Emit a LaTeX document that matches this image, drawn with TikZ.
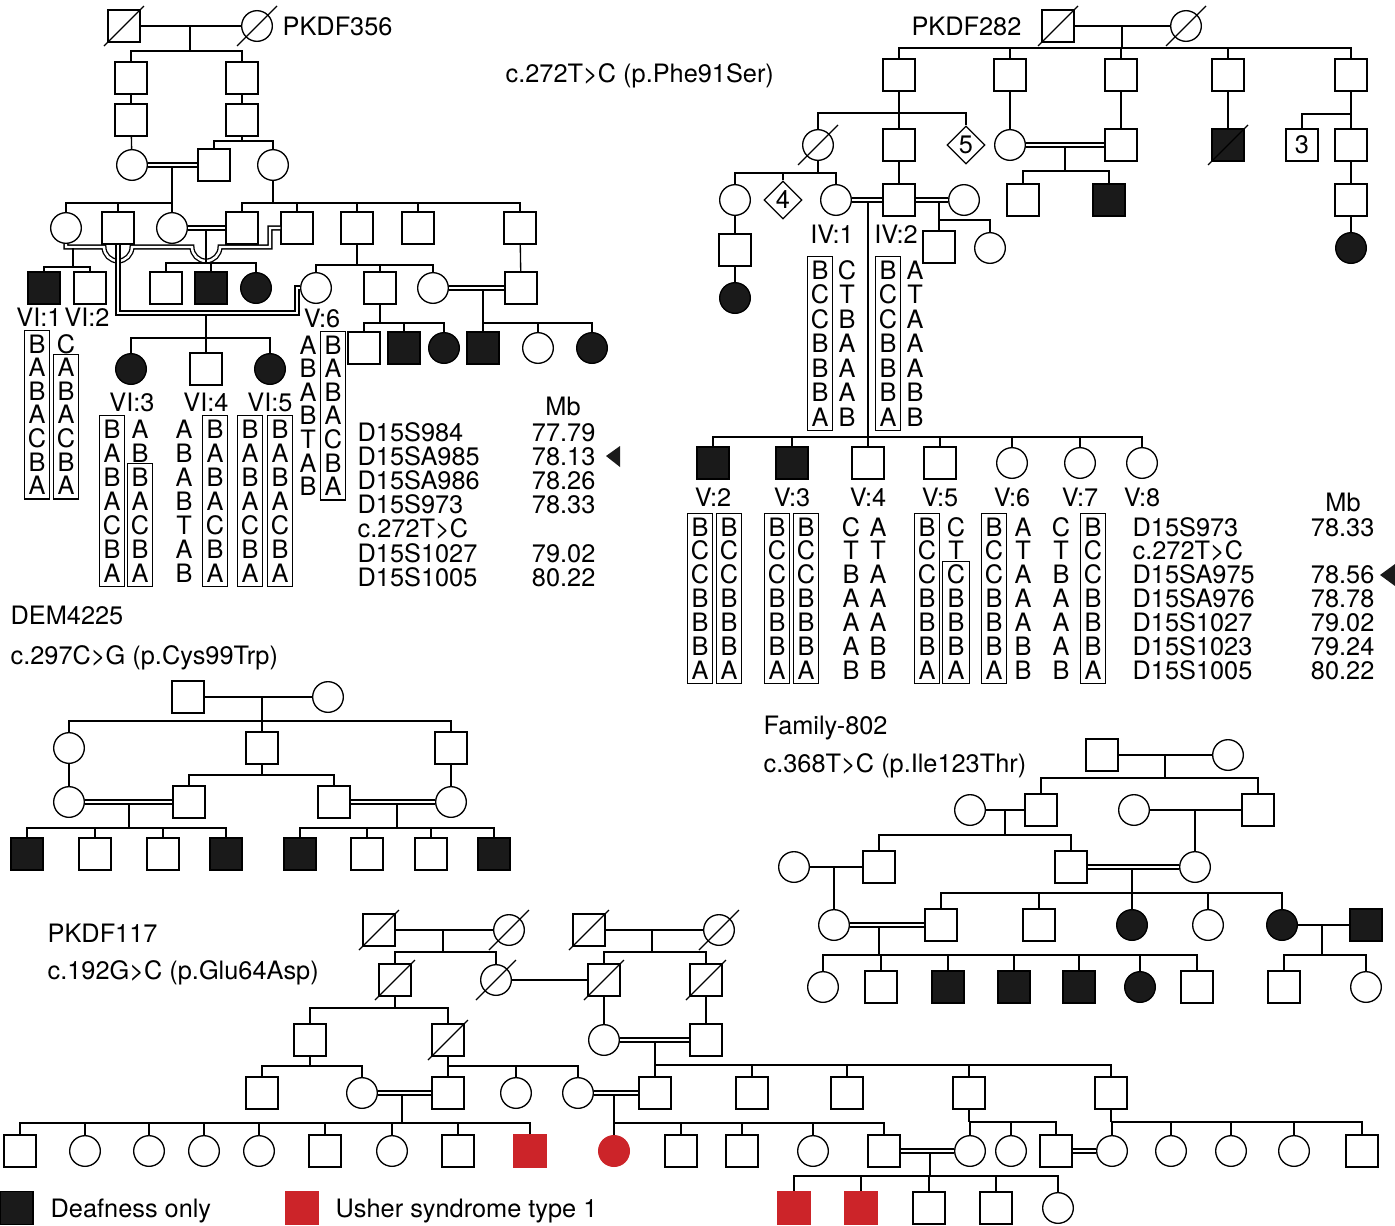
\documentclass[tikz,border=0pt]{standalone}
\usepackage{fontspec}
\setmainfont{TeX Gyre Heros}
\usetikzlibrary{shapes.geometric,fit}
\definecolor{usred}{RGB}{204,36,41}
\definecolor{affk}{RGB}{26,26,26}
\newcommand\figfont{\fontsize{19}{22}\selectfont}
\newcommand\hcol[5]{\foreach \hletter [count=\hidx from 0] in {#5} {\node[hl] (#1-\hidx) at ({#2},{#3+#4*\hidx}) {\hletter};}}
\newcommand\deceased[1]{\draw ([shift={(-20,20)}]#1.center) -- ([shift={(20,-20)}]#1.center);}
\newcommand\kids[2]{\foreach \kk in {#2}{\draw (#1) -| (\kk.north);}}
\begin{document}
\begin{tikzpicture}[x=0.75pt,y=-0.75pt,line width=1pt,
  sq/.style={draw, rectangle, minimum size=24pt, inner sep=0pt, fill=white, font=\figfont},
  ci/.style={draw, circle, minimum size=23pt, inner sep=0pt, fill=white},
  dm/.style={draw, diamond, minimum width=28.5pt, minimum height=28.5pt, inner sep=0pt, fill=white, font=\figfont},
  af/.style={fill=affk},
  us/.style={fill=usred, draw=usred},
  tx/.style={inner sep=0pt, font=\figfont, text height=13.5pt, text depth=0pt},
  hl/.style={tx, minimum width=12pt},
  hb/.style={draw, inner xsep=2.5pt, inner ysep=2.8pt, line width=0.8pt},
  dbl/.style={double, double distance=1.8pt}]
\fill[white] (0,0) rectangle (1395,1225);
\useasboundingbox (0,0) rectangle (1395,1225);

% ================= PKDF356 =================
\node[sq] (Aa1) at (124,26) {};
\node[ci] (Aa2) at (257,26) {};
\deceased{Aa1}\deceased{Aa2}
\node[tx,anchor=west] (At) at (282,26) {PKDF356};
\draw (Aa1) -- (Aa2);
\coordinate (Am1) at (190,26); \coordinate (As1) at (190,51);
\draw (Am1) -- (As1);
\node[sq] (Ab1) at (131,78) {};
\node[sq] (Ab2) at (242,78) {};
\kids{As1}{Ab1,Ab2}
\node[sq] (Ac1) at (131,120) {};
\node[sq] (Ac2) at (242,120) {};
\draw (Ab1) -- (Ac1); \draw (Ab2) -- (Ac2);
\node[ci] (Ad1) at (132,165) {};
\node[sq] (Ad2) at (214,165) {};
\node[ci] (Ad3) at (273,165) {};
\draw (Ac1) -- (Ad1);
\coordinate (As2) at (242,141);
\draw (Ac2) -- (As2);
\kids{As2}{Ad2,Ad3}
\draw[dbl] (Ad1) -- (Ad2);
\coordinate (Am3) at (172,166); \coordinate (As3) at (172,203);
\draw (Am3) -- (As3);
\node[ci] (Ae1) at (66,228) {};
\node[sq] (Ae2) at (118,228) {};
\node[ci] (Ae3) at (172,228) {};
\kids{As3}{Ae1,Ae2,Ae3}
\coordinate (As4) at (273,203);
\draw (Ad3) -- (As4);
\node[sq] (Ae4) at (242,228) {};
\node[sq] (Ae5) at (297,228) {};
\node[sq] (Ae6) at (357,228) {};
\node[sq] (Ae7) at (418,228) {};
\node[sq] (Ae8) at (520,228) {};
\kids{As4}{Ae4,Ae5,Ae6,Ae7,Ae8}
\draw[dbl] (Ae1.south) -- (66,247) -- (104,247) arc[start angle=180,end angle=0,radius=14] -- (192,247) arc[start angle=180,end angle=0,radius=14] -- (270,247) -- (270,228) -- (Ae5.west);
\coordinate (Am5) at (73,248); \coordinate (As5) at (73,267);
\draw (Am5) -- (As5);
\node[sq,af] (Af1) at (44,288) {};
\node[sq] (Af2) at (90,288) {};
\kids{As5}{Af1,Af2}
\draw[dbl] (Ae3) -- (Ae4);
\coordinate (Am6) at (206,229); \coordinate (As6) at (206,263);
\draw (Am6) -- (As6);
\node[sq] (Af3) at (166,288) {};
\node[sq,af] (Af4) at (211,288) {};
\node[ci,af] (Af5) at (256,288) {};
\kids{As6}{Af3,Af4,Af5}
\coordinate (As7) at (357,265);
\draw (Ae6) -- (As7);
\node[ci] (Ag1) at (316,288) {};
\node[sq] (Ag2) at (380,288) {};
\node[ci] (Ag3) at (433,288) {};
\kids{As7}{Ag1,Ag2,Ag3}
\draw[dbl] (Ae2.south) -- (118,313) -- (297,313) -- (297,288) -- (Ag1.west);
\coordinate (Am8) at (206,314); \coordinate (As8) at (206,338);
\draw (Am8) -- (As8);
\node[ci,af] (Ah1) at (131,369) {};
\node[sq] (Ah2) at (206,369) {};
\node[ci,af] (Ah3) at (270,369) {};
\kids{As8}{Ah1,Ah2,Ah3}
\node[sq] (Ag4) at (521,288) {};
\draw (Ae8) -- (Ag4);
\draw[dbl] (Ag3) -- (Ag4);
\coordinate (Am9) at (483,289); \coordinate (As9) at (483,323);
\draw (Am9) -- (As9);
\node[sq,af] (Ai4) at (483,348) {};
\node[ci] (Ai5) at (538,348) {};
\node[ci,af] (Ai6) at (592,348) {};
\kids{As9}{Ai4,Ai5,Ai6}
\coordinate (As10) at (380,323);
\draw (Ag2) -- (As10);
\node[sq] (Ai1) at (364,348) {};
\node[sq,af] (Ai2) at (404,348) {};
\node[ci,af] (Ai3) at (444,348) {};
\kids{As10}{Ai1,Ai2,Ai3}
% labels
\node[tx] (AlVI1) at (39,317) {VI:1};
\node[tx] (AlVI2) at (87,317) {VI:2};
\node[tx] (AlVI3) at (132,402) {VI:3};
\node[tx] (AlVI4) at (206,402) {VI:4};
\node[tx] (AlVI5) at (270,402) {VI:5};
\node[tx] (AlV6) at (322,318) {V:6};
% haplotypes
\hcol{hA}{37}{344}{23.6}{B,A,B,A,C,B,A} \node[hb,fit=(hA-0)(hA-6)] (bA) {};
\hcol{hB}{66}{344}{23.6}{C,A,B,A,C,B,A} \node[hb,fit=(hB-1)(hB-6)] (bB) {};
\hcol{hC}{112}{429}{24}{B,A,B,A,C,B,A} \node[hb,fit=(hC-0)(hC-6)] (bC) {};
\hcol{hD}{140}{429}{24}{A,B,B,A,C,B,A} \node[hb,fit=(hD-2)(hD-6)] (bD) {};
\hcol{hE}{184}{429}{24}{A,B,A,B,T,A,B}
\hcol{hF}{215}{429}{24}{B,A,B,A,C,B,A} \node[hb,fit=(hF-0)(hF-6)] (bF) {};
\hcol{hG}{250}{429}{24}{B,A,B,A,C,B,A} \node[hb,fit=(hG-0)(hG-6)] (bG) {};
\hcol{hH}{280}{429}{24}{B,A,B,A,C,B,A} \node[hb,fit=(hH-0)(hH-6)] (bH) {};
\hcol{hI}{308}{345}{23.6}{A,B,A,B,T,A,B}
\hcol{hJ}{333}{345}{23.6}{B,A,B,A,C,B,A} \node[hb,fit=(hJ-0)(hJ-6)] (bJ) {};
% markers
\node[tx] (AMb) at (563,406) {Mb};
\foreach \mkname [count=\mkidx from 0] in {D15S984,D15SA985,D15SA986,D15S973,c.272T>C,D15S1027,D15S1005}
  \node[tx,anchor=west] (mA-\mkidx) at (357,{432+24.2*\mkidx}) {\mkname};
\foreach \mkval/\mkidx in {77.79/0,78.13/1,78.26/2,78.33/3,79.02/5,80.22/6}
  \node[tx,anchor=east] (nA-\mkidx) at (596,{432+24.2*\mkidx}) {\mkval};
\fill[affk] (606,456) -- (620,446) -- (620,467) -- cycle;
\node[tx,anchor=west] (Amut) at (505,73) {c.272T>C (p.Phe91Ser)};

% ================= PKDF282 =================
\node[sq] (Pa1) at (1058,26) {};
\node[ci] (Pa2) at (1186,26) {};
\deceased{Pa1}\deceased{Pa2}
\node[tx,anchor=east] (Pt) at (1022,26) {PKDF282};
\draw (Pa1) -- (Pa2);
\coordinate (Pm1) at (1122,26); \coordinate (Ps1) at (1122,48);
\draw (Pm1) -- (Ps1);
\node[sq] (Pq1) at (899,75) {};
\node[sq] (Pq2) at (1010,75) {};
\node[sq] (Pq3) at (1121,75) {};
\node[sq] (Pq4) at (1228,75) {};
\node[sq] (Pq5) at (1351,75) {};
\kids{Ps1}{Pq1,Pq2,Pq3,Pq4,Pq5}
\coordinate (Ps2) at (899,113); \draw (Pq1) -- (Ps2);
\node[ci] (Pr1) at (818,145) {}; \deceased{Pr1}
\node[sq] (Pr2) at (899,145) {};
\node[dm] (Pr3) at (966,145) {5};
\kids{Ps2}{Pr1,Pr2,Pr3}
\node[ci] (Pr4) at (1010,145) {}; \draw (Pq2) -- (Pr4);
\node[sq] (Pr5) at (1121,145) {}; \draw (Pq3) -- (Pr5);
\draw[dbl] (Pr4) -- (Pr5);
\coordinate (Pm3) at (1065,146); \coordinate (Ps3) at (1065,171); \draw (Pm3) -- (Ps3);
\node[sq] (Pu4) at (1023,200) {};
\node[sq,af] (Pu5) at (1109,200) {};
\kids{Ps3}{Pu4,Pu5}
\node[sq,af] (Pr6) at (1228,145) {}; \deceased{Pr6} \draw (Pq4) -- (Pr6);
\coordinate (Ps4) at (1351,114); \draw (Pq5) -- (Ps4);
\node[sq] (Pr7) at (1302,145) {3};
\node[sq] (Pr8) at (1351,145) {};
\kids{Ps4}{Pr7,Pr8}
\node[sq] (Pu8) at (1351,200) {}; \draw (Pr8) -- (Pu8);
\node[ci,af] (Pv8) at (1351,248) {}; \draw (Pu8) -- (Pv8);
\coordinate (Ps5) at (818,173); \draw (Pr1) -- (Ps5);
\node[ci] (Pu1) at (735,200) {};
\node[dm] (Pu2) at (783,200) {4};
\node[ci] (Pu3) at (836,200) {};
\kids{Ps5}{Pu1,Pu2,Pu3}
\node[sq] (Pu6) at (899,200) {}; \draw (Pr2) -- (Pu6);
\node[ci] (Pu7) at (964,200) {};
\draw[dbl] (Pu3) -- (Pu6);
\draw[dbl] (Pu6) -- (Pu7);
\coordinate (Pm6) at (868,201); \coordinate (Ps6) at (868,437); \draw (Pm6) -- (Ps6);
\coordinate (Pm7) at (939,201); \coordinate (Ps7) at (939,220); \draw (Pm7) -- (Ps7);
\node[sq] (Pw1) at (939,247) {};
\node[ci] (Pw2) at (990,248) {};
\kids{Ps7}{Pw1,Pw2}
\node[sq] (Px1) at (735,250) {}; \draw (Pu1) -- (Px1);
\node[ci,af] (Px2) at (735,298) {}; \draw (Px1) -- (Px2);
\node[tx] (PlIV1) at (832,234) {IV:1};
\node[tx] (PlIV2) at (896,234) {IV:2};
\hcol{kA}{820}{270}{24.5}{B,C,C,B,B,B,A} \node[hb,fit=(kA-0)(kA-6)] (bkA) {};
\hcol{kB}{847}{270}{24.5}{C,T,B,A,A,A,B}
\hcol{kC}{888}{270}{24.5}{B,C,C,B,B,B,A} \node[hb,fit=(kC-0)(kC-6)] (bkC) {};
\hcol{kD}{915}{270}{24.5}{A,T,A,A,A,B,B}
% generation V
\node[sq,af] (Py2) at (713,463) {};
\node[sq,af] (Py3) at (792,463) {};
\node[sq] (Py4) at (868,463) {};
\node[sq] (Py5) at (940,463) {};
\node[ci] (Py6) at (1012,463) {};
\node[ci] (Py7) at (1080,463) {};
\node[ci] (Py8) at (1142,463) {};
\kids{Ps6}{Py2,Py3,Py4,Py5,Py6,Py7,Py8}
\node[tx] (PlV2) at (713,497) {V:2};
\node[tx] (PlV3) at (792,497) {V:3};
\node[tx] (PlV4) at (868,497) {V:4};
\node[tx] (PlV5) at (940,497) {V:5};
\node[tx] (PlV6) at (1012,497) {V:6};
\node[tx] (PlV7) at (1080,497) {V:7};
\node[tx] (PlV8) at (1142,497) {V:8};
\hcol{vA}{700}{527}{23.9}{B,C,C,B,B,B,A} \node[hb,fit=(vA-0)(vA-6)] (bvA) {};
\hcol{vB}{729}{527}{23.9}{B,C,C,B,B,B,A} \node[hb,fit=(vB-0)(vB-6)] (bvB) {};
\hcol{vC}{777}{527}{23.9}{B,C,C,B,B,B,A} \node[hb,fit=(vC-0)(vC-6)] (bvC) {};
\hcol{vD}{806}{527}{23.9}{B,C,C,B,B,B,A} \node[hb,fit=(vD-0)(vD-6)] (bvD) {};
\hcol{vE}{851}{527}{23.9}{C,T,B,A,A,A,B}
\hcol{vF}{878}{527}{23.9}{A,T,A,A,A,B,B}
\hcol{vG}{927}{527}{23.9}{B,C,C,B,B,B,A} \node[hb,fit=(vG-0)(vG-6)] (bvG) {};
\hcol{vH}{956}{527}{23.9}{C,T,C,B,B,B,A} \node[hb,fit=(vH-2)(vH-6)] (bvH) {};
\hcol{vI}{994}{527}{23.9}{B,C,C,B,B,B,A} \node[hb,fit=(vI-0)(vI-6)] (bvI) {};
\hcol{vJ}{1023}{527}{23.9}{A,T,A,A,A,B,B}
\hcol{vK}{1061}{527}{23.9}{C,T,B,A,A,A,B}
\hcol{vL}{1093}{527}{23.9}{B,C,C,B,B,B,A} \node[hb,fit=(vL-0)(vL-6)] (bvL) {};
\node[tx] (PMb) at (1343,502) {Mb};
\foreach \mkname [count=\mkidx from 0] in {D15S973,c.272T>C,D15SA975,D15SA976,D15S1027,D15S1023,D15S1005}
  \node[tx,anchor=west] (mP-\mkidx) at (1132,{527+23.9*\mkidx}) {\mkname};
\foreach \mkval/\mkidx in {78.33/0,78.56/2,78.78/3,79.02/4,79.24/5,80.22/6}
  \node[tx,anchor=east] (nP-\mkidx) at (1375,{527+23.9*\mkidx}) {\mkval};
\fill[affk] (1380,575) -- (1395,564) -- (1395,586) -- cycle;

% ================= DEM4225 =================
\node[tx,anchor=west] (Dt1) at (10,615) {DEM4225};
\node[tx,anchor=west] (Dt2) at (10,655) {c.297C>G (p.Cys99Trp)};
\node[sq] (Da1) at (188,697) {};
\node[ci] (Da2) at (328,697) {};
\draw (Da1) -- (Da2);
\coordinate (Dm1) at (262,697); \coordinate (Ds1) at (262,721); \draw (Dm1) -- (Ds1);
\node[ci] (Db1) at (69,748) {};
\node[sq] (Db2) at (262,748) {};
\node[sq] (Db3) at (451,748) {};
\kids{Ds1}{Db1,Db2,Db3}
\coordinate (Ds2) at (262,775); \draw (Db2) -- (Ds2);
\node[ci] (Dc1) at (69,802) {};
\node[sq] (Dc2) at (189,802) {};
\node[sq] (Dc3) at (334,802) {};
\node[ci] (Dc4) at (451,802) {};
\kids{Ds2}{Dc2,Dc3}
\draw (Db1) -- (Dc1); \draw (Db3) -- (Dc4);
\draw[dbl] (Dc1) -- (Dc2);
\coordinate (Dm3) at (129,803); \coordinate (Ds3) at (129,828); \draw (Dm3) -- (Ds3);
\node[sq,af] (Dd1) at (27,854) {};
\node[sq] (Dd2) at (95,854) {};
\node[sq] (Dd3) at (163,854) {};
\node[sq,af] (Dd4) at (226,854) {};
\kids{Ds3}{Dd1,Dd2,Dd3,Dd4}
\draw[dbl] (Dc3) -- (Dc4);
\coordinate (Dm4) at (397,803); \coordinate (Ds4) at (397,828); \draw (Dm4) -- (Ds4);
\node[sq,af] (Dd5) at (300,854) {};
\node[sq] (Dd6) at (367,854) {};
\node[sq] (Dd7) at (431,854) {};
\node[sq,af] (Dd8) at (494,854) {};
\kids{Ds4}{Dd5,Dd6,Dd7,Dd8}

% ================= Family-802 =================
\node[tx,anchor=west] (Ft1) at (763,725) {Family-802};
\node[tx,anchor=west] (Ft2) at (763,763) {c.368T>C (p.Ile123Thr)};
\node[sq] (Fa1) at (1102,755) {};
\node[ci] (Fa2) at (1228,755) {};
\draw (Fa1) -- (Fa2);
\coordinate (Fm1) at (1165,755); \coordinate (Fs1) at (1165,778); \draw (Fm1) -- (Fs1);
\node[ci] (Fb1) at (970,810) {};
\node[sq] (Fb2) at (1041,810) {};
\node[ci] (Fb3) at (1134,810) {};
\node[sq] (Fb4) at (1258,810) {};
\kids{Fs1}{Fb2,Fb4}
\draw (Fb1) -- (Fb2);
\coordinate (Fm2) at (1005,810); \coordinate (Fs2) at (1005,835); \draw (Fm2) -- (Fs2);
\draw (Fb3) -- (Fb4);
\coordinate (Fm3) at (1195,810);
\node[ci] (Fc1) at (794,867) {};
\node[sq] (Fc2) at (879,867) {};
\node[sq] (Fc3) at (1071,867) {};
\node[ci] (Fc4) at (1195,867) {};
\draw (Fm3) -- (Fc4);
\kids{Fs2}{Fc2,Fc3}
\draw (Fc1) -- (Fc2);
\coordinate (Fm4) at (834,867);
\node[ci] (Fd1) at (834,925) {};
\draw (Fm4) -- (Fd1);
\draw[dbl] (Fc3) -- (Fc4);
\coordinate (Fm5) at (1132,868); \coordinate (Fs5) at (1132,893); \draw (Fm5) -- (Fs5);
\node[sq] (Fd2) at (941,925) {};
\node[sq] (Fd3) at (1039,925) {};
\node[ci,af] (Fd4) at (1132,925) {};
\node[ci] (Fd5) at (1208,925) {};
\node[ci,af] (Fd6) at (1282,925) {};
\node[sq,af] (Fd7) at (1366,925) {};
\kids{Fs5}{Fd2,Fd3,Fd4,Fd5,Fd6}
\draw[dbl] (Fd1) -- (Fd2);
\coordinate (Fm6) at (879,926); \coordinate (Fs6) at (879,955); \draw (Fm6) -- (Fs6);
\draw (Fd6) -- (Fd7);
\coordinate (Fm7) at (1322,925); \coordinate (Fs7) at (1322,955); \draw (Fm7) -- (Fs7);
\node[ci] (Fe1) at (823,987) {};
\node[sq] (Fe2) at (881,987) {};
\node[sq,af] (Fe3) at (948,987) {};
\node[sq,af] (Fe4) at (1014,987) {};
\node[sq,af] (Fe5) at (1079,987) {};
\node[ci,af] (Fe6) at (1140,987) {};
\node[sq] (Fe7) at (1197,987) {};
\kids{Fs6}{Fe1,Fe2,Fe3,Fe4,Fe5,Fe6,Fe7}
\node[sq] (Fe8) at (1284,987) {};
\node[ci] (Fe9) at (1366,987) {};
\kids{Fs7}{Fe8,Fe9}

% ================= PKDF117 =================
\node[tx,anchor=west] (Kt1) at (47,933) {PKDF117};
\node[tx,anchor=west] (Kt2) at (47,970) {c.192G>C (p.Glu64Asp)};
\node[sq] (Ka1) at (379,930) {};
\node[ci] (Ka2) at (509,930) {};
\node[sq] (Ka3) at (589,930) {};
\node[ci] (Ka4) at (719,930) {};
\deceased{Ka1}\deceased{Ka2}\deceased{Ka3}\deceased{Ka4}
\draw (Ka1) -- (Ka2); \draw (Ka3) -- (Ka4);
\coordinate (Km1) at (443,930); \coordinate (Ks1) at (443,952); \draw (Km1) -- (Ks1);
\coordinate (Km2) at (652,930); \coordinate (Ks2) at (652,952); \draw (Km2) -- (Ks2);
\node[sq] (Kb1) at (395,980) {};
\node[ci] (Kb2) at (496,980) {};
\node[sq] (Kb3) at (604,980) {};
\node[sq] (Kb4) at (706,980) {};
\deceased{Kb1}\deceased{Kb2}\deceased{Kb3}\deceased{Kb4}
\kids{Ks1}{Kb1,Kb2}
\kids{Ks2}{Kb3,Kb4}
\draw (Kb2) -- (Kb3);
\coordinate (Ks3) at (395,1008); \draw (Kb1) -- (Ks3);
\node[sq] (Kc1) at (310,1040) {};
\node[sq] (Kc2) at (448,1040) {};
\deceased{Kc2}
\kids{Ks3}{Kc1,Kc2}
\node[ci] (Kc3) at (604,1040) {};
\node[sq] (Kc4) at (706,1040) {};
\draw (Kb3) -- (Kc3); \draw (Kb4) -- (Kc4);
\draw[dbl] (Kc3) -- (Kc4);
\coordinate (Km4) at (655,1041); \coordinate (Ks4) at (655,1065); \draw (Km4) -- (Ks4);
\coordinate (Ks5) at (310,1066); \draw (Kc1) -- (Ks5);
\coordinate (Ks6) at (448,1066); \draw (Kc2) -- (Ks6);
\node[sq] (Kd1) at (262,1093) {};
\node[ci] (Kd2) at (362,1093) {};
\node[sq] (Kd3) at (448,1093) {};
\node[ci] (Kd4) at (516,1093) {};
\node[ci] (Kd5) at (578,1093) {};
\node[sq] (Kd6) at (655,1093) {};
\node[sq] (Kd7) at (752,1093) {};
\node[sq] (Kd8) at (847,1093) {};
\node[sq] (Kd9) at (969,1093) {};
\node[sq] (Kd10) at (1111,1093) {};
\kids{Ks5}{Kd1,Kd2}
\kids{Ks6}{Kd3,Kd4,Kd5}
\kids{Ks4}{Kd6,Kd7,Kd8,Kd9,Kd10}
\draw[dbl] (Kd2) -- (Kd3);
\coordinate (Km7) at (402,1094); \coordinate (Ks7) at (402,1123); \draw (Km7) -- (Ks7);
\draw[dbl] (Kd5) -- (Kd6);
\coordinate (Km8) at (614,1094); \coordinate (Ks8) at (614,1123); \draw (Km8) -- (Ks8);
\coordinate (Ks9) at (969,1122); \draw (Kd9) -- (Ks9);
\coordinate (Ks10) at (1111,1122); \draw (Kd10) -- (Ks10);
\node[sq] (Ke1) at (20,1151) {};
\node[ci] (Ke2) at (85,1151) {};
\node[ci] (Ke3) at (149,1151) {};
\node[ci] (Ke4) at (204,1151) {};
\node[ci] (Ke5) at (259,1151) {};
\node[sq] (Ke6) at (325,1151) {};
\node[ci] (Ke7) at (392,1151) {};
\node[sq] (Ke8) at (458,1151) {};
\node[sq,us] (Ke9) at (530,1151) {};
\node[ci,us] (Ke10) at (614,1151) {};
\node[sq] (Ke11) at (681,1151) {};
\node[sq] (Ke12) at (742,1151) {};
\node[ci] (Ke13) at (813,1151) {};
\node[sq] (Ke14) at (884,1151) {};
\node[ci] (Ke15) at (970,1151) {};
\node[ci] (Ke16) at (1011,1151) {};
\node[sq] (Ke17) at (1056,1151) {};
\node[ci] (Ke18) at (1112,1151) {};
\node[ci] (Ke19) at (1171,1151) {};
\node[ci] (Ke20) at (1231,1151) {};
\node[ci] (Ke21) at (1294,1151) {};
\node[sq] (Ke22) at (1362,1151) {};
\kids{Ks7}{Ke1,Ke2,Ke3,Ke4,Ke5,Ke6,Ke7,Ke8,Ke9}
\kids{Ks8}{Ke10,Ke11,Ke12,Ke13,Ke14}
\kids{Ks9}{Ke15,Ke16,Ke17}
\kids{Ks10}{Ke18,Ke19,Ke20,Ke21,Ke22}
\draw[dbl] (Ke14) -- (Ke15);
\coordinate (Km11) at (930,1152); \coordinate (Ks11) at (930,1176); \draw (Km11) -- (Ks11);
\draw[dbl] (Ke17) -- (Ke18);
\node[sq,us] (Kf1) at (794,1208) {};
\node[sq,us] (Kf2) at (861,1208) {};
\node[sq] (Kf3) at (929,1208) {};
\node[sq] (Kf4) at (996,1208) {};
\node[ci] (Kf5) at (1058,1208) {};
\kids{Ks11}{Kf1,Kf2,Kf3,Kf4,Kf5}

% ================= legend =================
\node[sq,af,minimum size=24.5pt] (Lg1) at (16.5,1208) {};
\node[tx,anchor=west] (Lt1) at (50,1208) {Deafness only};
\node[sq,us,minimum size=24.5pt] (Lg2) at (302,1208) {};
\node[tx,anchor=west] (Lt2) at (335,1208) {Usher syndrome type 1};
\end{tikzpicture}
\end{document}
